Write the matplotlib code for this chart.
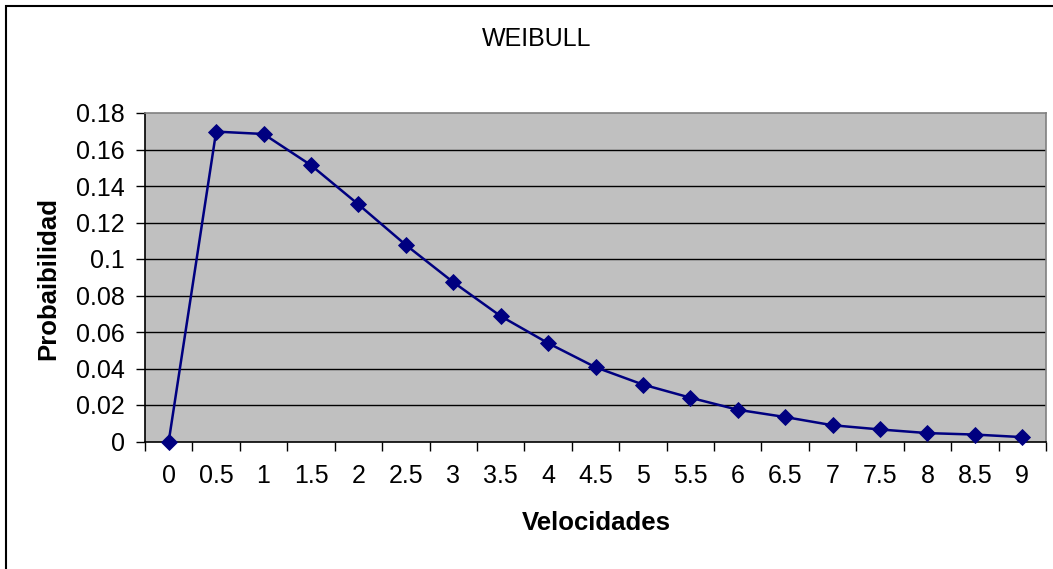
import matplotlib
matplotlib.use("Agg")
import matplotlib.pyplot as plt
from matplotlib.patches import Rectangle
import numpy as np

# Wind speed classes and Weibull probability for each
velocidades = ["0", "0.5", "1", "1.5", "2", "2.5", "3", "3.5", "4", "4.5",
               "5", "5.5", "6", "6.5", "7", "7.5", "8", "8.5", "9"]
probabilidad = [0.0, 0.1698, 0.1685, 0.1514, 0.1299, 0.1077, 0.0873, 0.0687,
                0.0539, 0.0407, 0.0312, 0.0240, 0.0174, 0.0134, 0.0089,
                0.0066, 0.0046, 0.0038, 0.0024]
y_ticks = [0, 0.02, 0.04, 0.06, 0.08, 0.1, 0.12, 0.14, 0.16, 0.18]
y_tick_labels = ["0", "0.02", "0.04", "0.06", "0.08", "0.1", "0.12", "0.14", "0.16", "0.18"]

W, H = 1053, 569
fig = plt.figure(figsize=(W / 100, H / 100), dpi=100)
plt.rcParams["font.family"] = ["Liberation Sans", "DejaVu Sans"]

FS = 18

left, right, top, bottom = 145, 1046, 113, 441.5
ax = fig.add_axes([left / W, 1 - bottom / H, (right - left) / W, (bottom - top) / H])
ax.set_facecolor("#C0C0C0")

x = np.arange(len(velocidades))
ax.set_xlim(-0.5, len(velocidades) - 0.5)
ax.set_ylim(0, 0.18)

for yv in y_ticks[1:-1]:
    ax.axhline(yv, color="black", lw=1.0, zorder=1)

ax.plot(x, probabilidad, color="#000080", lw=1.8, marker="D", ms=8.5,
        markeredgewidth=0.6, markeredgecolor="#000080", zorder=3, clip_on=False)

# category labels centred on each class, tick marks between classes
ax.set_xticks(x)
ax.set_xticklabels(velocidades)
ax.set_xticks(np.arange(-0.5, len(velocidades)), minor=True)
ax.tick_params(axis="x", which="major", length=0, pad=16, labelsize=FS)
ax.tick_params(axis="x", which="minor", length=6.5, width=1, color="black", direction="out")

ax.set_yticks(y_ticks)
ax.set_yticklabels(y_tick_labels)
ax.tick_params(axis="y", length=6.5, width=1, direction="out", pad=8, labelsize=FS)

for side in ("top", "right"):
    ax.spines[side].set_color("#808080")
    ax.spines[side].set_linewidth(1.2)
for side in ("left", "bottom"):
    ax.spines[side].set_color("black")
    ax.spines[side].set_linewidth(1.2)

fig.text(537 / W, 1 - 39 / H, "WEIBULL", ha="center", va="center", fontsize=FS)
fig.text(596 / W, 1 - 523 / H, "Velocidades", ha="center", va="center",
         fontsize=FS + 0.5, fontweight="bold")
fig.text(48 / W, 1 - 278 / H, "Probaibilidad", ha="center", va="center",
         rotation=90, fontsize=FS + 0.5, fontweight="bold")

# chart-area frame
fig.patches.append(Rectangle((6 / W, -0.02), 1.1, 1 - 6 / H + 0.02, transform=fig.transFigure,
                             fill=False, edgecolor="black", lw=1.5))

fig.savefig("out.png", dpi=100, facecolor="white")
